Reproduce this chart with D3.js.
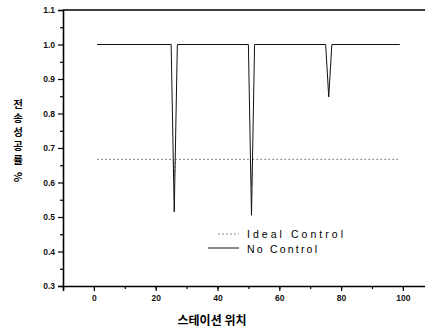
<!DOCTYPE html>
<html>
<head>
<meta charset="utf-8">
<script src="https://cdn.jsdelivr.net/npm/d3@7"></script>
<style>
body { margin: 0; background: #fff; }
text { font-family: "Liberation Sans", Arial, sans-serif; }
</style>
</head>
<body>
<div id="chart"></div>
<script>
// station positions and success rates
var noControlX = [1, 25, 26, 27, 50, 51, 52, 75, 76, 77, 99];
var noControlY = [1, 1, 0.515, 1, 1, 0.505, 1, 1, 0.848, 1, 1];

var idealX = [1, 25.6, 26, 26.4, 50.6, 51, 51.4, 99];
var idealY = [0.667, 0.667, 0.62, 0.667, 0.667, 0.59, 0.667, 0.667];

var xTicks = [0, 20, 40, 60, 80, 100];
var yTicks = [0.3, 0.4, 0.5, 0.6, 0.7, 0.8, 0.9, 1.0, 1.1];
var yLabelChars = ["전", "송", "성", "공", "률", "%"];
var legendNames = ["Ideal Control", "No Control"];

var width = 425, height = 331;
var marginLeft = 63, marginTop = 10;

var svg = d3.select("#chart").append("svg")
	.attr("width", width)
	.attr("height", height);

var x = d3.scaleLinear().domain([-10, 110]).range([marginLeft, marginLeft + 370.8]);
var y = d3.scaleLinear().domain([0.3, 1.1]).range([286, marginTop]);

// minor ticks
var xMinor = d3.range(-10, 111, 10);
var yMinor = d3.range(0.35, 1.1, 0.1);

svg.append("g")
	.attr("transform", "translate(0," + y(0.3) + ")")
	.call(d3.axisBottom(x).tickValues(xTicks).tickSize(5).tickPadding(4).tickFormat(d3.format("d")));
svg.append("g")
	.attr("transform", "translate(0," + y(0.3) + ")")
	.call(d3.axisBottom(x).tickValues(xMinor).tickSize(3).tickFormat(""))
	.select(".domain").remove();

svg.append("g")
	.attr("transform", "translate(" + marginLeft + ",0)")
	.call(d3.axisLeft(y).tickValues(yTicks).tickSize(5).tickPadding(3).tickFormat(d3.format(".1f")));
svg.append("g")
	.attr("transform", "translate(" + marginLeft + ",0)")
	.call(d3.axisLeft(y).tickValues(yMinor).tickSize(3).tickFormat(""))
	.select(".domain").remove();

svg.selectAll(".domain").attr("stroke-width", 1.6).attr("stroke", "#000");
svg.selectAll(".tick line").attr("stroke", "#000").attr("stroke-width", 1.2);
svg.selectAll(".tick text")
	.attr("font-size", "8.5px")
	.attr("font-weight", "bold")
	.attr("fill", "#111");

// top frame line
svg.append("line")
	.attr("x1", marginLeft).attr("x2", width)
	.attr("y1", y(1.1)).attr("y2", y(1.1))
	.attr("stroke", "#000").attr("stroke-width", 1.6);

var line = d3.line()
	.x(function(d) { return x(d[0]); })
	.y(function(d) { return y(d[1]); });

var idealData = idealX.map(function(d, i) { return [d, idealY[i]]; });
var noData = noControlX.map(function(d, i) { return [d, noControlY[i]]; });

svg.append("path")
	.datum(idealData)
	.attr("d", line)
	.attr("fill", "none")
	.attr("stroke", "#888")
	.attr("stroke-width", 1)
	.attr("stroke-dasharray", "2,2");

svg.append("path")
	.datum(noData)
	.attr("d", line)
	.attr("fill", "none")
	.attr("stroke", "#111")
	.attr("stroke-width", 1);

// legend
var legend = svg.append("g");
legend.append("line")
	.attr("x1", 218).attr("x2", 239).attr("y1", 234).attr("y2", 234)
	.attr("stroke", "#888").attr("stroke-width", 1).attr("stroke-dasharray", "2,2");
legend.append("line")
	.attr("x1", 208).attr("x2", 239).attr("y1", 248).attr("y2", 248)
	.attr("stroke", "#111").attr("stroke-width", 1);
var legendWidths = [96, 70];
legend.selectAll("text.leg")
	.data(legendNames)
	.enter()
	.append("text")
	.attr("class", "leg")
	.attr("x", 247)
	.attr("y", function(d, i) { return 238 + i * 15; })
	.attr("font-size", "10.5px")
	.attr("textLength", function(d, i) { return legendWidths[i]; })
	.attr("lengthAdjust", "spacing")
	.attr("fill", "#000")
	.text(function(d) { return d; });

// axis titles
svg.append("text")
	.attr("x", 212)
	.attr("y", 325)
	.attr("text-anchor", "middle")
	.attr("font-size", "12px")
	.attr("font-weight", "bold")
	.style("font-family", "'Noto Sans CJK KR', sans-serif")
	.text("스테이션 위치");

svg.selectAll("text.ylab")
	.data(yLabelChars)
	.enter()
	.append("text")
	.attr("class", "ylab")
	.attr("text-anchor", "middle")
	.attr("font-size", "10.5px")
	.attr("font-weight", "bold")
	.style("font-family", "'Noto Sans CJK KR', sans-serif")
	.attr("transform", function(d, i) {
		var cy = 104 + i * 14 + (i == 5 ? 3 : 0);
		return "translate(18," + cy + ")" + (i == 5 ? " rotate(90)" : "");
	})
	.attr("dy", "0.35em")
	.text(function(d) { return d; });
</script>
</body>
</html>
